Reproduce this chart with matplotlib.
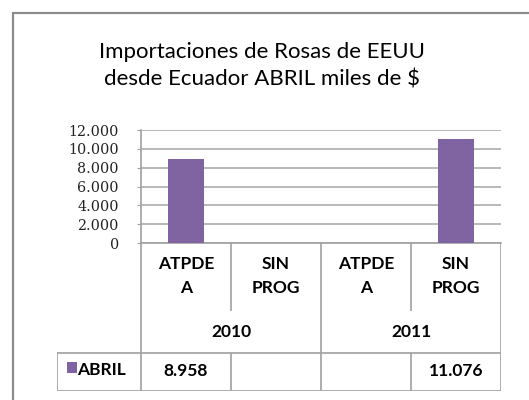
import matplotlib.pyplot as plt
import numpy as np
from matplotlib.patches import Rectangle

# data
groups = ['ATPDE\nA', 'SIN\nPROG', 'ATPDE\nA', 'SIN\nPROG']
years = ['2010', '2011']
series_name = 'ABRIL'
abril = [8958, np.nan, np.nan, 11076]
yticks = [0, 2000, 4000, 6000, 8000, 10000, 12000]

W, H = 529, 400
BAR = '#8064A2'
GRID = '#ADADAD'
LINE = '#A0A0A0'


def fx(x):
    return x / W


def fy(y):
    return 1 - y / H


def thousands(v):
    return f'{v:,.0f}'.replace(',', '.')


fig = plt.figure(figsize=(W / 100, H / 100), dpi=100)
fig.patch.set_facecolor('white')

# chart border (runs off the right and bottom edges)
fig.add_artist(Rectangle((fx(13), fy(420)), fx(540 - 13), 420 / H - 13 / H,
                         transform=fig.transFigure, fill=False,
                         edgecolor='#8C8C8C', linewidth=1.6))

fig.text(fx(262), fy(66), 'Importaciones de Rosas de EEUU\ndesde Ecuador ABRIL miles de $',
         ha='center', va='center', fontsize=16, family='Lato',
         linespacing=1.45, color='black')

# plot area
left, right, top, bottom = 141, 501, 130, 243
ax = fig.add_axes([fx(left), fy(bottom), fx(right - left), (bottom - top) / H])
x = np.arange(len(groups))
ax.bar(x, abril, width=0.39, color=BAR, zorder=3)
ax.set_xlim(-0.5, len(groups) - 0.5)
ax.set_ylim(0, 12000)
ax.set_yticks(yticks)
ax.set_yticklabels([thousands(v) for v in yticks], family='DejaVu Serif',
                   fontsize=10.3, color='#222222')
ax.tick_params(axis='y', length=3, color=LINE, pad=13)
ax.set_xticks([])
ax.yaxis.grid(True, color=GRID, linewidth=1.2)
for s in ['top', 'right']:
    ax.spines[s].set_visible(False)
for s in ['left', 'bottom']:
    ax.spines[s].set_color(LINE)
    ax.spines[s].set_linewidth(1.2)

# data table below the plot
t_left, t_bottom = 57, 391
unit = (right - left) / len(groups)
x0 = -0.5 - (left - t_left) / unit
tax = fig.add_axes([fx(t_left), fy(t_bottom), fx(right - t_left), (t_bottom - bottom) / H])
tax.set_xlim(x0, len(groups) - 0.5)
tax.set_ylim(t_bottom, bottom)
tax.axis('off')

lk = dict(color=LINE, linewidth=1.2, solid_capstyle='butt')
row_data = 353
year_top = 311
# outer verticals and year divider
for xv in [-0.5, 1.5, len(groups) - 0.5]:
    tax.plot([xv, xv], [bottom, t_bottom], **lk)
# dividers between the two groups within a year
for xv in [0.5, 2.5]:
    tax.plot([xv, xv], [bottom, year_top], **lk)
    tax.plot([xv, xv], [row_data, t_bottom], **lk)
tax.plot([x0, x0], [row_data, t_bottom], **lk)
tax.plot([x0, len(groups) - 0.5], [row_data, row_data], **lk)
tax.plot([x0, len(groups) - 0.5], [t_bottom, t_bottom], **lk)

tf = dict(family='Lato', fontweight='bold', fontsize=12.5, color='black',
          ha='center', va='center')
for i, g in enumerate(groups):
    tax.text(i, 276, g, linespacing=1.6, **tf)
for j, yr in enumerate(years):
    tax.text(2 * j + 0.5, 332, yr, **tf)
for i, v in enumerate(abril):
    if not np.isnan(v):
        tax.text(i, 371, thousands(v), **tf)

# legend key in the row header
tax.add_patch(Rectangle((x0 + 10 / unit, 373), 10 / unit, -11, facecolor=BAR,
                        edgecolor='none'))
tax.text(x0 + 20 / unit, 370, series_name, family='Lato', fontweight='bold',
         fontsize=12.5, color='black', ha='left', va='center')

fig.savefig('out.png', dpi=100)
